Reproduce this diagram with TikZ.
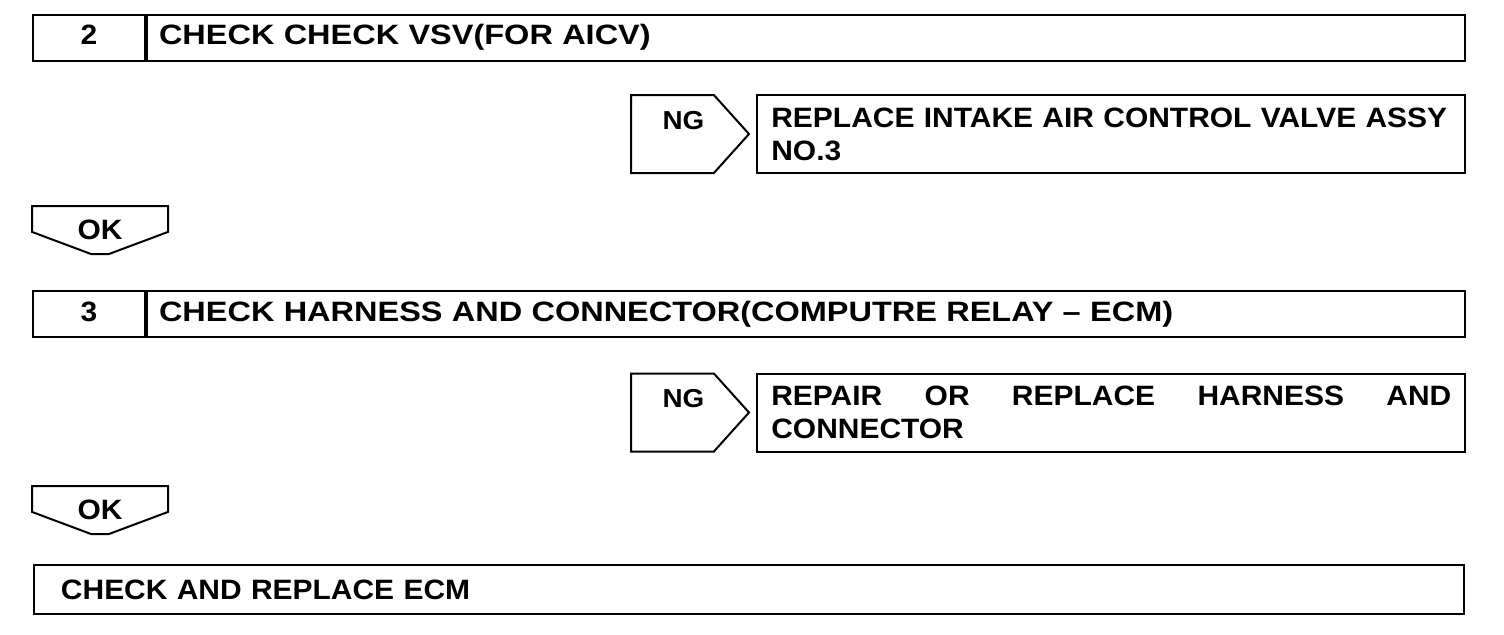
\documentclass[tikz,border=0pt]{standalone}
\usepackage{fontspec}
\setmainfont{Liberation Sans}[FakeStretch=1.07]
\newfontfamily\widefont{Liberation Sans}[FakeStretch=1.16]
\usetikzlibrary{shapes.symbols, positioning, calc}

\begin{document}
\begin{tikzpicture}[
      x=0.5pt, y=-0.5pt,
      every node/.style={font=\fontsize{14pt}{16.5pt}\selectfont\bfseries, line width=1pt},
      numcell/.style={rectangle, draw, minimum width=56pt, minimum height=23pt, inner sep=0pt, text height=10pt, text depth=3pt},
      titlecell/.style={rectangle, draw, minimum height=23pt, text width=647pt, inner xsep=6pt, inner ysep=0pt, align=left, font=\fontsize{14pt}{16.5pt}\selectfont\widefont\bfseries},
      ngtag/.style={signal, signal to=east, signal pointer angle=96, draw, minimum width=59pt, minimum height=39pt, inner sep=0pt, text height=10pt, text depth=15pt, font=\fontsize{13pt}{15pt}\selectfont\bfseries},
      fixbox/.style={rectangle, draw, minimum height=39pt, text width=340pt, inner xsep=7pt, inner ysep=0pt, align=left},
      oktag/.style={rectangle, minimum width=67pt, minimum height=23pt, inner sep=0pt},
      tagline/.style={line width=1pt, line join=miter},
      endbox/.style={rectangle, draw, minimum height=24.5pt, text width=688pt, inner xsep=13.5pt, inner ysep=0pt, align=left}
    ]
    \useasboundingbox (0,0) rectangle (1504,634);

    % step 2
    \node[numcell] (n2) at (89,37.5) {2};
    \node[titlecell, right=0pt of n2] (t2) {CHECK CHECK VSV(FOR AICV)};

    \node[ngtag, anchor=west] (ng1) at (630,134) {\hspace*{11pt}NG};
    \node[fixbox, right=3pt of ng1] (r1) {REPLACE INTAKE AIR CONTROL VALVE ASSY\\NO.3};

    \node[oktag] (ok1) at (100,230) {OK};
    \draw[tagline] (ok1.north west) -- ($(ok1.north west)!0.54!(ok1.south west)$) -- ($(ok1.south)+(-9,0)$)
      -- ($(ok1.south)+(9,0)$) -- ($(ok1.north east)!0.54!(ok1.south east)$) -- (ok1.north east) -- cycle;

    % step 3
    \node[numcell] (n3) at (89,314) {3};
    \node[titlecell, right=0pt of n3] (t3) {CHECK HARNESS AND CONNECTOR(COMPUTRE RELAY – ECM)};

    \node[ngtag, anchor=west] (ng2) at (630,412.5) {\hspace*{11pt}NG};
    \node[fixbox, right=3pt of ng2] (r2) {REPAIR\hfill OR\hfill REPLACE\hfill HARNESS\hfill AND\\CONNECTOR};

    \node[oktag] (ok2) at (100,510) {OK};
    \draw[tagline] (ok2.north west) -- ($(ok2.north west)!0.54!(ok2.south west)$) -- ($(ok2.south)+(-9,0)$)
      -- ($(ok2.south)+(9,0)$) -- ($(ok2.north east)!0.54!(ok2.south east)$) -- (ok2.north east) -- cycle;

    % end
    \node[endbox, anchor=west] (e1) at (33,589.5) {CHECK AND REPLACE ECM};
  \end{tikzpicture}
\end{document}
